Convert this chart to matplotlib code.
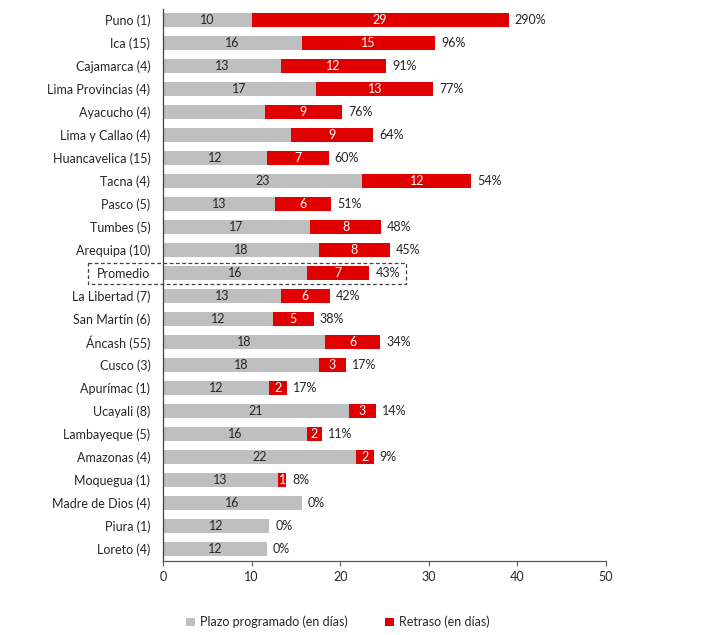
import matplotlib
matplotlib.use("Agg")
import matplotlib.pyplot as plt
from matplotlib.patches import Rectangle, Patch

categories = ["Puno (1)", "Ica (15)", "Cajamarca (4)", "Lima Provincias (4)", "Ayacucho (4)",
              "Lima y Callao (4)", "Huancavelica (15)", "Tacna (4)", "Pasco (5)", "Tumbes (5)",
              "Arequipa (10)", "Promedio", "La Libertad (7)", "San Martín (6)", "Áncash (55)",
              "Cusco (3)", "Apurímac (1)", "Ucayali (8)", "Lambayeque (5)", "Amazonas (4)",
              "Moquegua (1)", "Madre de Dios (4)", "Piura (1)", "Loreto (4)"]
plazo = [10.0, 15.7, 13.3, 17.3, 11.5, 14.5, 11.7, 22.5, 12.6, 16.6, 17.6, 16.3, 13.3, 12.4,
         18.3, 17.6, 12.0, 21.0, 16.2, 21.8, 13.0, 15.7, 12.0, 11.7]
retraso = [29.0, 15.0, 11.9, 13.2, 8.7, 9.2, 7.0, 12.3, 6.4, 8.0, 8.0, 7.0, 5.5, 4.6,
           6.2, 3.0, 2.0, 3.0, 1.8, 2.0, 0.9, 0.0, 0.0, 0.0]
plazo_labels = ["10", "16", "13", "17", "", "", "12", "23", "13", "17", "18", "16", "13", "12",
                "18", "18", "12", "21", "16", "22", "13", "16", "12", "12"]
retraso_labels = ["29", "15", "12", "13", "9", "9", "7", "12", "6", "8", "8", "7", "6", "5",
                  "6", "3", "2", "3", "2", "2", "1", "", "", ""]
pct_labels = ["290%", "96%", "91%", "77%", "76%", "64%", "60%", "54%", "51%", "48%", "45%",
              "43%", "42%", "38%", "34%", "17%", "17%", "14%", "11%", "9%", "8%", "0%", "0%", "0%"]
xticks = [0, 10, 20, 30, 40, 50]
legend_labels = ["Plazo programado (en días)", "Retraso (en días)"]

GRAY = "#BFBFBF"
RED = "#E00000"
TXT = "#262626"
FONT = ["Lato", "DejaVu Sans"]
plt.rcParams["font.family"] = FONT

fig = plt.figure(figsize=(7.13, 6.35), dpi=100)
ax = fig.add_axes([0.2286, 0.117, 0.6214, 0.8696])

y = list(range(len(categories)))
b1 = ax.barh(y, plazo, height=0.63, color=GRAY, edgecolor="none")
b2 = ax.barh(y, retraso, left=plazo, height=0.63, color=RED, edgecolor="none")

for i in y:
    if plazo_labels[i]:
        ax.text(plazo[i] / 2, i, plazo_labels[i], ha="center", va="center",
                fontsize=9, color=TXT)
    if retraso_labels[i]:
        ax.text(plazo[i] + retraso[i] / 2, i, retraso_labels[i], ha="center", va="center",
                fontsize=9, color="white")
    ax.annotate(pct_labels[i], xy=(plazo[i] + retraso[i], i), xytext=(4.3, 0),
                textcoords="offset points", ha="left", va="center", fontsize=9, color=TXT)

ax.set_xlim(0, 50)
ax.set_ylim(len(categories) - 0.5, -0.5)
ax.set_xticks(xticks)
ax.set_xticklabels([str(t) for t in xticks])
ax.set_yticks(y)
ax.set_yticklabels(categories)
ax.tick_params(axis="y", length=0, pad=9, labelsize=9, labelcolor=TXT)
ax.tick_params(axis="x", length=3.5, width=0.8, color="#595959", pad=4, labelsize=9, labelcolor=TXT)
for s in ["top", "right"]:
    ax.spines[s].set_visible(False)
ax.spines["left"].set_color("#404040")
ax.spines["bottom"].set_color("#595959")
ax.spines["left"].set_linewidth(0.9)
ax.spines["bottom"].set_linewidth(0.9)

# dashed box around Promedio
pi = categories.index("Promedio")
rect = Rectangle((-8.47, pi - 0.46), 27.38 + 8.47, 0.92, transform=ax.transData,
                 fill=False, linestyle=(0, (3, 2)), linewidth=0.9, edgecolor="#404040",
                 clip_on=False)
ax.add_patch(rect)

handles = [Patch(facecolor=GRAY, edgecolor="none"), Patch(facecolor=RED, edgecolor="none")]
fig.legend(handles, legend_labels, loc="center", bbox_to_anchor=(0.474, 0.0205), ncol=2,
           frameon=False, fontsize=9, handlelength=0.7, handleheight=0.7, handletextpad=0.4,
           columnspacing=3.0, labelcolor=TXT)

fig.savefig("out.png", dpi=100)
